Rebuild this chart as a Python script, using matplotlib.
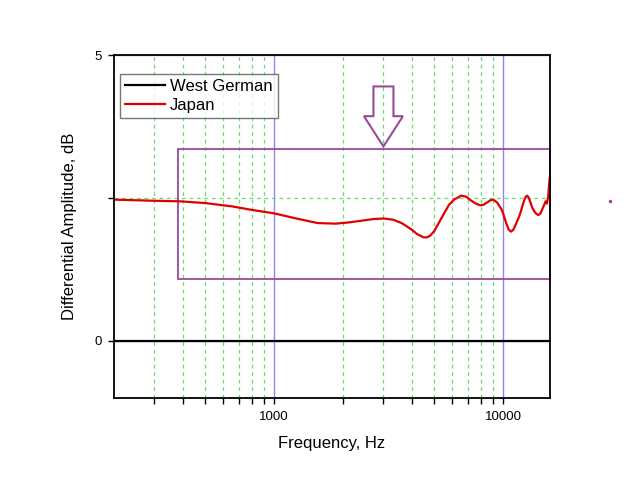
import numpy as np
import matplotlib
matplotlib.use("Agg")
import matplotlib.pyplot as plt
from matplotlib.patches import Polygon, Rectangle
from matplotlib.lines import Line2D
from matplotlib.ticker import FixedLocator, NullFormatter

plt.rcParams['font.family'] = ['Liberation Sans', 'DejaVu Sans']

# series (frequency in Hz, differential amplitude in dB)
freq_japan = [200, 300, 390, 500, 660, 800, 1000, 1250, 1550, 1860, 2100, 2400,
              2700, 3000, 3300, 3600, 3800, 4000, 4200, 4490, 4650, 4800, 5000,
              5210, 5500, 5800, 6100, 6560, 6900, 7200, 7600, 7950, 8200, 8500,
              8800, 9050, 9400, 9830, 10000, 10300, 10550, 10800, 11050, 11300,
              11550, 11800, 12050, 12300, 12500, 12700, 12900, 13100, 13300,
              13500, 13800, 14200, 14500, 14950, 15100, 15300, 15500, 15700, 15950]
amp_japan = [2.47, 2.45, 2.44, 2.41, 2.35, 2.29, 2.23, 2.14, 2.06, 2.05, 2.07, 2.10,
             2.13, 2.14, 2.12, 2.06, 2.00, 1.94, 1.87, 1.81, 1.81, 1.84, 1.92,
             2.05, 2.22, 2.38, 2.47, 2.54, 2.52, 2.46, 2.40, 2.37, 2.38, 2.42,
             2.46, 2.47, 2.42, 2.30, 2.22, 2.06, 1.95, 1.91, 1.94, 2.02,
             2.11, 2.20, 2.32, 2.44, 2.51, 2.54, 2.51, 2.44, 2.36,
             2.30, 2.24, 2.20, 2.22, 2.34, 2.38, 2.44, 2.40, 2.52, 2.85]
freq_german = [200, 16000]
amp_german = [0, 0]

series_names = ["West German", "Japan"]
major_x = [1000, 10000]
minor_x = [300, 400, 500, 600, 700, 800, 900, 2000, 3000, 4000, 5000, 6000,
           7000, 8000, 9000]
major_y = [0, 5]
minor_y = [2.5]

# highlighted region and arrow position
box_f = (380, 16000)
box_a = (1.08, 3.35)
arrow_f = 3000
arrow_a = (4.45, 3.93, 3.40)

purple = '#9a4a9a'

fig = plt.figure(figsize=(6.4, 4.79), dpi=100)
ax = fig.add_axes([114/640, 1-398/479, 436/640, 343/479])

ax.set_xscale('log')
ax.set_xlim(200, 16000)
ax.set_ylim(-1, 5)

ax.xaxis.set_major_locator(FixedLocator(major_x))
ax.xaxis.set_minor_locator(FixedLocator(minor_x))
ax.xaxis.set_minor_formatter(NullFormatter())
ax.set_xticklabels([str(v) for v in major_x])
ax.yaxis.set_major_locator(FixedLocator(major_y))
ax.yaxis.set_minor_locator(FixedLocator(minor_y))
ax.set_yticklabels([str(v) for v in major_y])

ax.grid(True, which='major', color='#8a8aea', linestyle='-', linewidth=1)
ax.grid(True, which='minor', color='#6fd86f', linestyle=(0, (3, 3)), linewidth=0.9)
ax.set_axisbelow(True)

ax.tick_params(which='both', direction='out', length=4, width=1, labelsize=9.5,
               pad=5, top=False, right=False)
for s in ax.spines.values():
    s.set_linewidth(1.3)

ax.plot(freq_german, amp_german, color='black', lw=1.6, label=series_names[0])
ax.plot(freq_japan, amp_japan, color='#e00000', lw=1.6, label=series_names[1])

# purple box
ax.add_patch(Rectangle((box_f[0], box_a[0]), box_f[1]-box_f[0], box_a[1]-box_a[0],
                       fill=False, edgecolor=purple, lw=1.3, clip_on=False))

# hollow down arrow (widths in decades)
c = np.log10(arrow_f)
sw, hw = 10/229, 19.5/229
xs = 10**np.array([c-sw, c+sw, c+sw, c+hw, c, c-hw, c-sw])
ys = [arrow_a[0], arrow_a[0], arrow_a[1], arrow_a[1], arrow_a[2], arrow_a[1], arrow_a[1]]
ax.add_patch(Polygon(np.column_stack([xs, ys]), closed=True, fill=False,
                     edgecolor=purple, lw=1.5))

ax.set_xlabel("Frequency, Hz", fontsize=12, labelpad=10)
ax.set_ylabel("Differential Amplitude, dB", fontsize=12, labelpad=12)

leg = ax.legend(loc='upper left', bbox_to_anchor=(0.014, 0.945), fontsize=12,
                frameon=True, fancybox=False, edgecolor='#555555',
                handlelength=2.4, handletextpad=0.3, borderpad=0.3,
                labelspacing=0.22, borderaxespad=0)
leg.get_frame().set_linewidth(1.0)

# stray dot to the right of the plot
fig.add_artist(Line2D([610/640], [1-201/479], marker='o', markersize=1.5,
                      color=purple, linestyle='none'))

fig.savefig("out.png", dpi=100)
